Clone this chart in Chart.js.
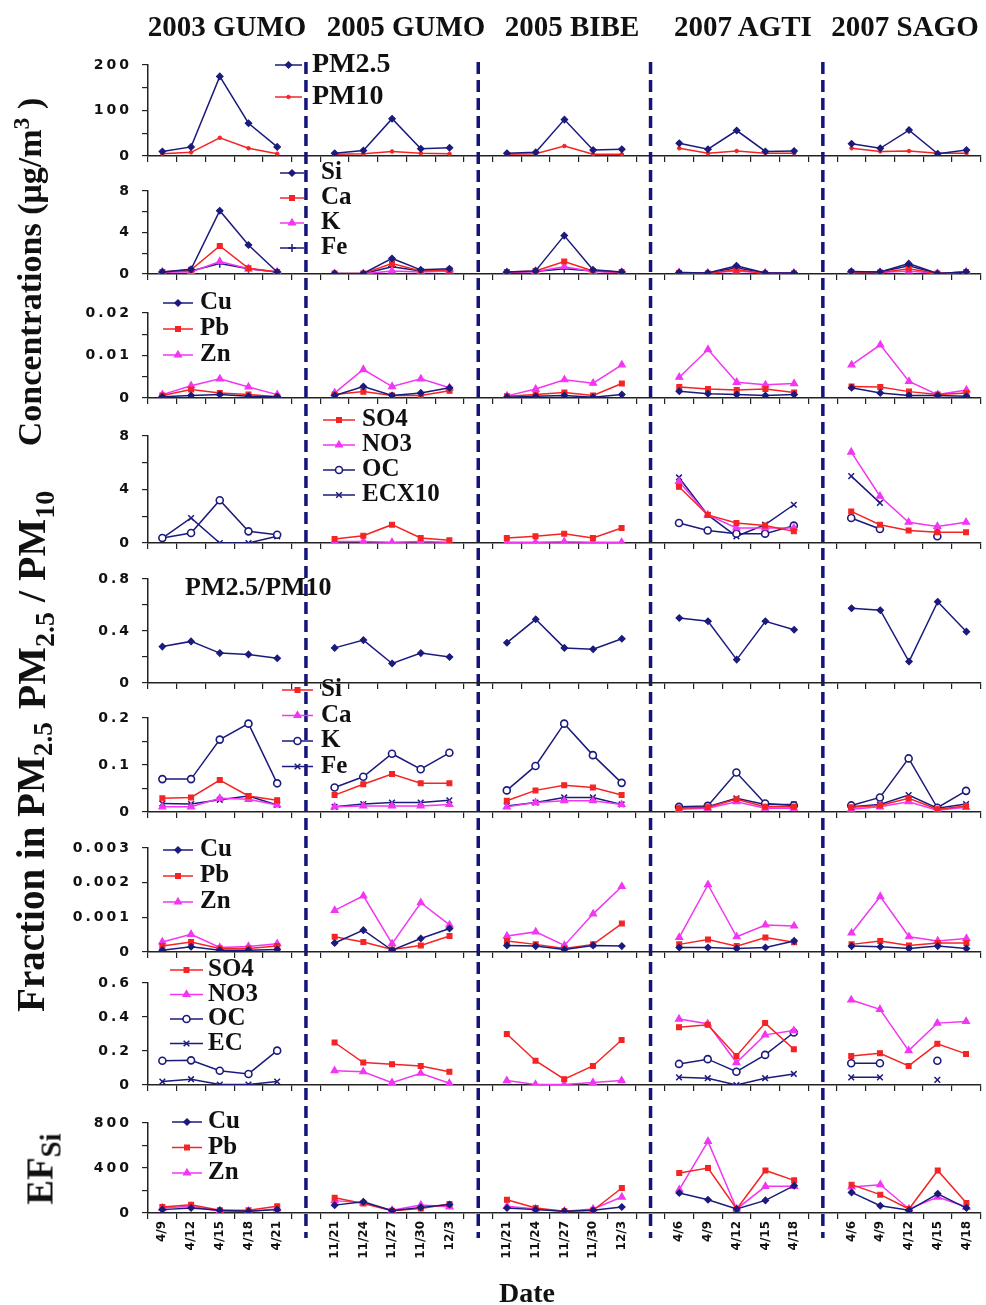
<!DOCTYPE html>
<html>
<head>
<meta charset="utf-8">
<script src="https://cdn.jsdelivr.net/npm/chart.js"></script>
<style>
html,body{margin:0;padding:0;background:#fff}
#page{position:relative;width:986px;height:1305px;overflow:hidden;font-family:"Liberation Serif","Times New Roman",serif;font-weight:bold;color:#111}
#page canvas{position:absolute;left:0;top:0}
.hdr{position:absolute;top:12px;font-size:29px;line-height:1;transform:translateX(-50%);white-space:nowrap}
.ytitle{position:absolute;font-size:34px;line-height:1;white-space:nowrap;transform:translate(-50%,-50%) rotate(-90deg)}
sub,sup{font-size:70%;line-height:0}
</style>
</head>
<body>
<div id="page">
  <div class="hdr" style="left:227px">2003 GUMO</div>
  <div class="hdr" style="left:406px">2005 GUMO</div>
  <div class="hdr" style="left:572px">2005 BIBE</div>
  <div class="hdr" style="left:743px">2007 AGTI</div>
  <div class="hdr" style="left:905px">2007 SAGO</div>
  <div class="ytitle" style="left:30px;top:272px">Concentrations (μg/m<sup>3</sup> )</div>
  <div class="ytitle" style="left:32px;top:600px;font-size:40px">PM<sub>2.5</sub> / PM<sub>10</sub></div>
  <div class="ytitle" style="left:30px;top:867px;font-size:39px">Fraction in PM<sub>2.5</sub></div>
  <div class="ytitle" style="left:40px;top:1169px;font-size:37px">EF<sub style="font-size:78%">Si</sub></div>
  <div style="position:absolute;left:527px;top:1293px;transform:translate(-50%,-50%);font-size:28px;line-height:1">Date</div>
</div>
<script>
// sites / campaigns and their sampling dates
const groups = ['2003 GUMO', '2005 GUMO', '2005 BIBE', '2007 AGTI', '2007 SAGO'];
const groupDates = [
  ['4/9', '4/12', '4/15', '4/18', '4/21'],
  ['11/21', '11/24', '11/27', '11/30', '12/3'],
  ['11/21', '11/24', '11/27', '11/30', '12/3'],
  ['4/6', '4/9', '4/12', '4/15', '4/18'],
  ['4/6', '4/9', '4/12', '4/15', '4/18']
];

// concentrations (ug/m3), 5 values per campaign in the order above
const pm25 = [10, 20, 175, 72, 20, 6, 12, 82, 16, 18, 6, 8, 80, 13, 15, 28, 15, 56, 10, 11, 27, 17, 57, 5, 13];
const pm10 = [5, 8, 40, 17, 5, 4, 5, 10, 6, 5, 4, 5, 22, 4, 4, 17, 6, 11, 6, 6, 17, 10, 11, 6, 6];

const si = [0.2, 0.45, 6.1, 2.8, 0.2, 0.05, 0.05, 1.5, 0.4, 0.5, 0.2, 0.3, 3.7, 0.4, 0.2, 0.15, 0.1, 0.8, 0.1, 0.1, 0.25, 0.2, 1.0, 0.05, 0.2];
const ca = [0.2, 0.4, 2.7, 0.55, 0.2, 0.05, 0.05, 1.0, 0.3, 0.4, 0.2, 0.3, 1.2, 0.3, 0.2, 0.1, 0.05, 0.4, 0.05, 0.05, 0.2, 0.15, 0.5, 0.05, 0.2];
const k = [0.2, 0.2, 1.2, 0.5, 0.2, 0.02, 0.02, 0.3, 0.2, 0.3, 0.15, 0.25, 0.7, 0.25, 0.15, 0.15, 0.1, 0.3, 0.1, 0.1, 0.15, 0.15, 0.3, 0.05, 0.2];
const fe = [0.2, 0.3, 1.0, 0.5, 0.2, 0.02, 0.02, 0.7, 0.3, 0.3, 0.15, 0.25, 0.5, 0.3, 0.2, 0.1, 0.1, 0.6, 0.1, 0.1, 0.2, 0.2, 0.8, 0.05, 0.2];

const cu = [0.0003, 0.0006, 0.0008, 0.0004, 0.0003, 0.0006, 0.0027, 0.0006, 0.0012, 0.0024, 0.0002, 0.0004, 0.0006, 0.0002, 0.0008, 0.0016, 0.001, 0.0008, 0.0006, 0.0008, 0.0024, 0.0012, 0.0006, 0.0006, 0.0004];
const pb = [0.0006, 0.002, 0.0012, 0.0008, 0.0003, 0.0008, 0.0015, 0.0006, 0.0006, 0.0017, 0.0004, 0.0008, 0.0013, 0.0006, 0.0034, 0.0026, 0.0021, 0.0019, 0.0021, 0.0013, 0.0027, 0.0026, 0.0015, 0.0008, 0.0012];
const zn = [0.0008, 0.0029, 0.0045, 0.0026, 0.0008, 0.0012, 0.0067, 0.0027, 0.0045, 0.0024, 0.0005, 0.0021, 0.0043, 0.0035, 0.0078, 0.0049, 0.0114, 0.0037, 0.0031, 0.0034, 0.0078, 0.0125, 0.0039, 0.0008, 0.0019];

const so4 = [null, null, null, null, null, 0.3, 0.55, 1.37, 0.37, 0.2, 0.37, 0.5, 0.7, 0.37, 1.12, 4.2, 2.1, 1.5, 1.3, 0.87, 2.36, 1.37, 0.94, 0.8, 0.8];
const no3 = [null, null, null, null, null, 0.12, 0.12, 0.05, 0.12, 0.05, 0.05, 0.05, 0.1, 0.05, 0.05, 4.6, 2.1, 1.12, 1.12, 1.12, 6.8, 3.5, 1.55, 1.24, 1.55];
const oc = [0.37, 0.75, 3.2, 0.87, 0.62, null, null, null, null, null, null, null, null, null, null, 1.5, 0.94, 0.7, 0.7, 1.3, 1.87, 1.05, null, 0.5, null];
const ecX10 = [0.37, 1.87, 0, 0, 0.5, null, null, null, null, null, null, null, null, null, null, 4.9, 2.1, 0.5, 1.37, 2.86, 5.0, 3.0, null, 1.0, null];

// PM2.5 / PM10 ratio
const ratio = [0.28, 0.32, 0.23, 0.22, 0.19, 0.27, 0.33, 0.15, 0.23, 0.20, 0.31, 0.49, 0.27, 0.26, 0.34, 0.50, 0.475, 0.18, 0.475, 0.41, 0.575, 0.56, 0.165, 0.625, 0.395];

// fractions in PM2.5
const siFrac = [0.029, 0.031, 0.068, 0.034, 0.025, 0.036, 0.059, 0.081, 0.061, 0.061, 0.024, 0.046, 0.057, 0.052, 0.036, 0.008, 0.01, 0.027, 0.011, 0.011, 0.01, 0.014, 0.029, 0.006, 0.013];
const caFrac = [0.011, 0.011, 0.029, 0.027, 0.015, 0.011, 0.013, 0.013, 0.013, 0.016, 0.011, 0.02, 0.024, 0.024, 0.016, 0.006, 0.008, 0.022, 0.008, 0.008, 0.006, 0.011, 0.022, 0.004, 0.01];
const kFrac = [0.070, 0.070, 0.154, 0.188, 0.061, 0.052, 0.075, 0.124, 0.091, 0.126, 0.046, 0.098, 0.188, 0.121, 0.062, 0.011, 0.013, 0.084, 0.018, 0.014, 0.014, 0.031, 0.114, 0.009, 0.045];
const feFrac = [0.018, 0.017, 0.026, 0.034, 0.015, 0.011, 0.017, 0.02, 0.02, 0.025, 0.013, 0.02, 0.031, 0.031, 0.016, 0.01, 0.011, 0.029, 0.016, 0.016, 0.011, 0.016, 0.036, 0.008, 0.017];

const cuFrac = [0.00005, 0.00015, 0.00005, 0.00005, 0.00007, 0.00026, 0.00063, 0.00005, 0.00039, 0.00068, 0.00019, 0.00017, 0.00007, 0.00019, 0.00017, 0.00013, 0.00013, 0.0001, 0.00013, 0.00032, 0.00017, 0.00015, 0.0001, 0.00017, 0.0001];
const pbFrac = [0.00017, 0.00029, 0.0001, 0.0001, 0.00017, 0.00044, 0.00029, 0.00007, 0.00019, 0.00046, 0.00032, 0.00022, 0.0001, 0.00022, 0.00082, 0.00022, 0.00036, 0.00017, 0.00042, 0.00028, 0.00022, 0.00032, 0.00019, 0.00026, 0.00026];
const znFrac = [0.00029, 0.00051, 0.00013, 0.00016, 0.00024, 0.0012, 0.00162, 0.00024, 0.00142, 0.00078, 0.00046, 0.00058, 0.00019, 0.0011, 0.00189, 0.00042, 0.00194, 0.00044, 0.00078, 0.00075, 0.00055, 0.0016, 0.00044, 0.00032, 0.00039];

const so4Frac = [null, null, null, null, null, 0.25, 0.132, 0.122, 0.112, 0.078, 0.30, 0.143, 0.034, 0.112, 0.265, 0.34, 0.354, 0.171, 0.364, 0.21, 0.171, 0.187, 0.112, 0.242, 0.183];
const no3Frac = [null, null, null, null, null, 0.084, 0.078, 0.014, 0.069, 0.01, 0.026, 0.003, 0.003, 0.014, 0.026, 0.388, 0.36, 0.132, 0.295, 0.32, 0.50, 0.445, 0.202, 0.364, 0.374];
const ocFrac = [0.143, 0.145, 0.084, 0.065, 0.202, null, null, null, null, null, null, null, null, null, null, 0.124, 0.152, 0.078, 0.177, 0.309, 0.128, 0.128, null, 0.143, null];
const ecFrac = [0.02, 0.034, 0.003, 0.003, 0.02, null, null, null, null, null, null, null, null, null, null, 0.045, 0.04, 0.0, 0.04, 0.065, 0.045, 0.045, null, 0.03, null];

// enrichment factors relative to Si
const cuEF = [30, 44, 24, 15, 30, 70, 100, 20, 50, 75, 44, 30, 15, 24, 53, 178, 118, 36, 112, 243, 183, 65, 24, 171, 44];
const pbEF = [53, 74, 24, 24, 59, 135, 85, 20, 40, 80, 118, 44, 15, 24, 222, 355, 400, 36, 378, 290, 252, 163, 36, 378, 89];
const znEF = [44, 59, 15, 15, 36, 110, 90, 25, 70, 55, 59, 36, 15, 36, 142, 207, 637, 36, 237, 237, 231, 252, 36, 142, 53];

const NAVY = '#1b1b7d', RED = '#f52424', MAG = '#f236f2';
const W = 986, H = 1305;

// one blank category between campaigns
const labels = [];
const gapIdx = [];
groupDates.forEach((d, g) => {
  labels.push(...d);
  if (g < groups.length - 1) { gapIdx.push(labels.length); labels.push(''); }
});

const expand = (vals) => {
  const out = [];
  groups.forEach((_, g) => {
    out.push(...vals.slice(g * 5, g * 5 + 5));
    if (g < groups.length - 1) out.push(null);
  });
  return out;
};

const marks = {
  diamond: { style: 'rectRot', r: 3.2, bw: 1.2 },
  square: { style: 'rect', r: 3.4, bw: 1.2 },
  tri: { style: 'triangle', r: 4, bw: 1.2 },
  ring: { style: 'circle', r: 3.5, bw: 1.6, open: true },
  cross: { style: 'cross', r: 4, bw: 1.5 },
  xcross: { style: 'crossRot', r: 4, bw: 1.5 },
  dot: { style: 'circle', r: 1.8, bw: 1 }
};

const series = (label, values, color, mark) => {
  const m = marks[mark];
  return {
    label: label,
    data: expand(values),
    borderColor: color,
    backgroundColor: color,
    borderWidth: 1.5,
    pointStyle: m.style,
    pointRadius: m.r,
    pointBorderWidth: m.bw,
    pointBorderColor: color,
    pointBackgroundColor: m.open ? '#fff' : color,
    tension: 0,
    spanGaps: false
  };
};

const panels = [
  { top: 65, bottom: 156, max: 200, step: 50, major: 100,
    sets: [series('PM2.5', pm25, NAVY, 'diamond'), series('PM10', pm10, RED, 'dot')],
    legend: { x0: 275, x1: 302, tx: 312, y: 65, gap: 32, size: 28 } },
  { top: 191, bottom: 274, max: 8, step: 2, major: 4,
    sets: [series('Si', si, NAVY, 'diamond'), series('Ca', ca, RED, 'square'), series('K', k, MAG, 'tri'), series('Fe', fe, NAVY, 'cross')],
    legend: { x0: 280, x1: 304, tx: 321, y: 173, gap: 25, size: 25 } },
  { top: 313, bottom: 398, max: 0.02, step: 0.005, major: 0.01,
    sets: [series('Cu', cu, NAVY, 'diamond'), series('Pb', pb, RED, 'square'), series('Zn', zn, MAG, 'tri')],
    legend: { x0: 163, x1: 193, tx: 200, y: 303, gap: 26, size: 25 } },
  { top: 436, bottom: 543, max: 8, step: 2, major: 4,
    sets: [series('SO4', so4, RED, 'square'), series('NO3', no3, MAG, 'tri'), series('OC', oc, NAVY, 'ring'), series('ECX10', ecX10, NAVY, 'xcross')],
    legend: { x0: 323, x1: 355, tx: 362, y: 420, gap: 25, size: 25 } },
  { top: 579, bottom: 683, max: 0.8, step: 0.2, major: 0.4,
    sets: [series('PM2.5/PM10', ratio, NAVY, 'diamond')],
    legend: { textOnly: 'PM2.5/PM10', tx: 185, y: 588, size: 26 } },
  { top: 718, bottom: 812, max: 0.2, step: 0.05, major: 0.1,
    sets: [series('Si', siFrac, RED, 'square'), series('Ca', caFrac, MAG, 'tri'), series('K', kFrac, NAVY, 'ring'), series('Fe', feFrac, NAVY, 'xcross')],
    legend: { x0: 282, x1: 313, tx: 321, y: 690, gap: 25.5, size: 25 } },
  { top: 848, bottom: 952, max: 0.003, step: 0.001, major: 0.001,
    sets: [series('Cu', cuFrac, NAVY, 'diamond'), series('Pb', pbFrac, RED, 'square'), series('Zn', znFrac, MAG, 'tri')],
    legend: { x0: 163, x1: 193, tx: 200, y: 850, gap: 26, size: 25 } },
  { top: 983, bottom: 1085, max: 0.6, step: 0.2, major: 0.2,
    sets: [series('SO4', so4Frac, RED, 'square'), series('NO3', no3Frac, MAG, 'tri'), series('OC', ocFrac, NAVY, 'ring'), series('EC', ecFrac, NAVY, 'xcross')],
    legend: { x0: 170, x1: 203, tx: 208, y: 970, gap: 24.5, size: 25 } },
  { top: 1123, bottom: 1213, max: 800, step: 200, major: 400,
    sets: [series('Cu', cuEF, NAVY, 'diamond'), series('Pb', pbEF, RED, 'square'), series('Zn', znEF, MAG, 'tri')],
    legend: { x0: 172, x1: 202, tx: 208, y: 1122, gap: 25.5, size: 25 } }
];

// wide spaced y tick text like the original
const spacing = {
  id: 'spacing',
  afterLayout(chart) {
    const y = chart.scales.y;
    if (!y || y._spaced) return;
    const orig = y.drawLabels.bind(y);
    y.drawLabels = (area) => {
      const c = chart.ctx;
      c.save();
      c.letterSpacing = '3px';
      orig(area);
      c.restore();
    };
    y._spaced = true;
  }
};

const panelLegend = {
  id: 'panelLegend',
  afterDraw(chart, args, opts) {
    const ctx = chart.ctx;
    ctx.save();
    ctx.font = 'bold ' + opts.size + 'px "Liberation Serif", serif';
    ctx.textBaseline = 'middle';
    ctx.textAlign = 'left';
    if (opts.textOnly) {
      ctx.fillStyle = '#111';
      ctx.fillText(opts.textOnly, opts.tx, opts.y);
      ctx.restore();
      return;
    }
    chart.data.datasets.forEach((d, i) => {
      const y = opts.y + i * opts.gap;
      ctx.strokeStyle = d.borderColor;
      ctx.lineWidth = d.borderWidth;
      ctx.beginPath();
      ctx.moveTo(opts.x0, y);
      ctx.lineTo(opts.x1, y);
      ctx.stroke();
      ctx.fillStyle = d.pointBackgroundColor;
      ctx.lineWidth = d.pointBorderWidth;
      const pt = { pointStyle: d.pointStyle, radius: d.pointRadius, borderWidth: d.pointBorderWidth, rotation: 0 };
      if (Chart.helpers && Chart.helpers.drawPoint) {
        Chart.helpers.drawPoint(ctx, pt, (opts.x0 + opts.x1) / 2, y);
      }
      ctx.fillStyle = '#111';
      ctx.fillText(d.label, opts.tx, y);
    });
    ctx.restore();
  }
};

const dividers = {
  id: 'dividers',
  afterDraw(chart, args, opts) {
    if (!opts.on) return;
    const ctx = chart.ctx;
    const x = chart.scales.x;
    ctx.save();
    ctx.strokeStyle = '#14147a';
    ctx.lineWidth = 3.5;
    ctx.setLineDash([12, 6]);
    gapIdx.forEach((i) => {
      const px = x.getPixelForValue(i);
      ctx.beginPath();
      ctx.moveTo(px, 62);
      ctx.lineTo(px, 1238);
      ctx.stroke();
    });
    ctx.restore();
  }
};

const fmt = (v) => String(parseFloat(v.toPrecision(6)));

const page = document.getElementById('page');
panels.forEach((p, n) => {
  const last = n === panels.length - 1;
  const xh = last ? 60 : 7;
  const cv = document.createElement('canvas');
  cv.width = W;
  cv.height = H;
  page.insertBefore(cv, page.firstChild);
  new Chart(cv, {
    type: 'line',
    data: { labels: labels, datasets: p.sets },
    options: {
      responsive: false,
      animation: false,
      events: [],
      layout: { padding: { left: 0, right: 4, top: p.top, bottom: H - p.bottom - xh } },
      plugins: {
        legend: { display: false },
        tooltip: { enabled: false },
        panelLegend: p.legend,
        dividers: { on: last }
      },
      scales: {
        x: {
          type: 'category',
          offset: true,
          grid: { offset: true, drawOnChartArea: false, drawTicks: true, tickLength: 6, tickColor: '#222', lineWidth: 1.2 },
          border: { color: '#222', width: 1.5 },
          ticks: {
            display: last,
            autoSkip: false,
            minRotation: 90,
            maxRotation: 90,
            padding: 2,
            color: '#111',
            font: { family: '"DejaVu Sans", sans-serif', weight: 'bold', size: 12 }
          },
          afterFit: (a) => { a.height = xh; }
        },
        y: {
          type: 'linear',
          min: 0,
          max: p.max,
          grid: { drawOnChartArea: false, drawTicks: true, tickLength: 6, tickColor: '#222', lineWidth: 1.2 },
          border: { color: '#222', width: 1.5 },
          ticks: {
            stepSize: p.step,
            autoSkip: false,
            padding: 10,
            color: '#111',
            font: { family: '"DejaVu Sans", sans-serif', weight: 'bold', size: 14 },
            callback: (v) => {
              const r = Math.round(v / p.major);
              if (Math.abs(v - r * p.major) > p.major * 1e-6) return '';
              return fmt(v);
            }
          },
          afterFit: (a) => { a.width = 148; }
        }
      }
    },
    plugins: [spacing, panelLegend, dividers]
  });
});
</script>
</body>
</html>
